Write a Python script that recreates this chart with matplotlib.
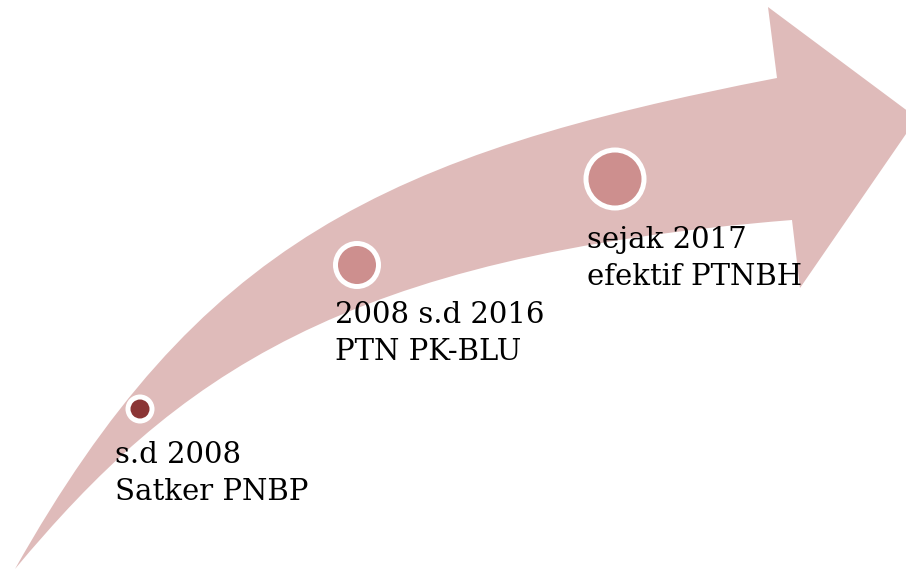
import matplotlib
matplotlib.use("Agg")
import matplotlib.pyplot as plt
from matplotlib.path import Path
from matplotlib.patches import PathPatch, Circle

# timeline content
years = ["s.d 2008", "2008 s.d 2016", "sejak 2017"]
statuses = ["Satker PNBP", "PTN PK-BLU", "efektif PTNBH"]
dot_x = [140, 357, 615]
dot_y = [409, 265, 179]
dot_r = [9.5, 19, 26.5]
dot_colors = ["#8B3535", "#CD8F8E", "#CD8F8E"]
text_x = [115, 335, 587]
text_y = [463, 323, 248]

band_color = "#DFBBBA"

fig = plt.figure(figsize=(9.06, 5.69), dpi=100)
ax = fig.add_axes([0, 0, 1, 1])
ax.set_xlim(0, 906)
ax.set_ylim(569, 0)
ax.axis("off")

# curved arrow (pixel coords, y down): outer edge, head, inner edge back to tail
verts = [
    (15, 569), (198, 244), (384, 154), (777, 78),
    (768, 7), (917, 118), (800, 288), (792, 220),
    (342, 256), (175, 377), (15, 569),
    (15, 569),
]
codes = [
    Path.MOVETO, Path.CURVE4, Path.CURVE4, Path.CURVE4,
    Path.LINETO, Path.LINETO, Path.LINETO, Path.LINETO,
    Path.CURVE4, Path.CURVE4, Path.CURVE4,
    Path.CLOSEPOLY,
]
ax.add_patch(PathPatch(Path(verts, codes), facecolor=band_color, edgecolor="none"))

for x, y, r, c in zip(dot_x, dot_y, dot_r, dot_colors):
    ax.add_patch(Circle((x, y), r + 5, facecolor="white", edgecolor="none"))
    ax.add_patch(Circle((x, y), r, facecolor=c, edgecolor="none"))

for x, y, yr, st in zip(text_x, text_y, years, statuses):
    ax.text(x, y, yr, fontsize=21, family="DejaVu Serif", va="baseline", ha="left", color="black")
    ax.text(x, y + 37, st, fontsize=21, family="DejaVu Serif", va="baseline", ha="left", color="black")

fig.savefig("out.png", dpi=100)
